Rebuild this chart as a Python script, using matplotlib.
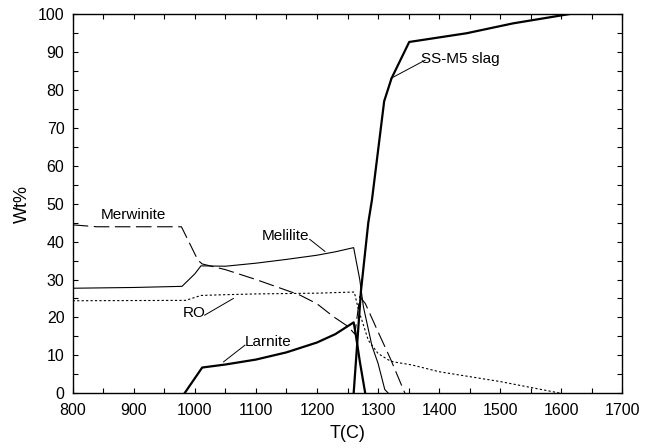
import numpy as np
import matplotlib
matplotlib.use('agg')
import matplotlib.pyplot as plt
from matplotlib.ticker import MultipleLocator

plt.rcParams['font.family'] = ['Liberation Sans', 'DejaVu Sans']

# phase amounts (wt%) vs temperature (C)
slag_t = [1260, 1272, 1284, 1290, 1310, 1322, 1351, 1445, 1521, 1615, 1700]
slag_w = [0, 27, 45, 51, 77, 83, 92.6, 94.9, 97.5, 100, 100]

larnite_t = [983, 1012, 1050, 1100, 1150, 1200, 1230, 1260, 1263, 1270, 1279]
larnite_w = [0, 6.8, 7.6, 8.9, 10.8, 13.4, 15.6, 18.7, 16.0, 8.5, 0]

melilite_t = [800, 900, 979, 1000, 1010, 1050, 1100, 1150, 1200, 1230, 1260,
              1270, 1276, 1290, 1300, 1311, 1317]
melilite_w = [27.7, 27.9, 28.2, 31.5, 33.6, 33.5, 34.3, 35.3, 36.4, 37.3, 38.4,
              30.0, 22.8, 12.5, 7.9, 1.0, 0]

merwinite_t = [800, 840, 978, 1005, 1012, 1050, 1100, 1172, 1200, 1227, 1251,
               1262, 1270, 1279, 1300, 1320, 1344]
merwinite_w = [44.4, 43.9, 43.9, 35.1, 34.1, 32.6, 30.0, 25.9, 23.6, 20.2, 17.6,
               15.6, 25.5, 23.7, 16.2, 9.2, 0]

ro_t = [800, 985, 1010, 1050, 1100, 1200, 1261, 1268, 1284, 1300, 1317, 1325,
        1355, 1400, 1500, 1600]
ro_w = [24.4, 24.5, 25.8, 26.0, 26.2, 26.4, 26.7, 22.0, 14.0, 10.5, 8.8, 8.3,
        7.5, 5.7, 3.1, 0]

fig = plt.figure(figsize=(6.51, 4.48), dpi=100)
ax = fig.add_axes([0.1117, 0.122, 0.8443, 0.847])

ax.plot(slag_t, slag_w, color='black', lw=1.6)
ax.plot(larnite_t, larnite_w, color='black', lw=1.6)
ax.plot(melilite_t, melilite_w, color='black', lw=0.8)
ax.plot(merwinite_t, merwinite_w, color='black', lw=0.8, dashes=(14, 5))
ax.plot(ro_t, ro_w, color='black', lw=0.8, dashes=(2, 2))

ax.set_xlim(800, 1700)
ax.set_ylim(0, 100)
ax.xaxis.set_major_locator(MultipleLocator(100))
ax.xaxis.set_minor_locator(MultipleLocator(50))
ax.yaxis.set_major_locator(MultipleLocator(10))
ax.yaxis.set_minor_locator(MultipleLocator(5))
ax.tick_params(which='both', direction='in', top=True, right=True,
               labelsize=11.5, length=3.5, width=0.8)
ax.tick_params(axis='x', which='major', pad=7)
ax.tick_params(axis='y', which='major', pad=6)
for s in ax.spines.values():
    s.set_linewidth(1.0)

ax.set_xlabel('T(C)', fontsize=13, labelpad=5)
ax.set_ylabel('Wt%', fontsize=13, labelpad=5)

# labels with leader lines
fs = 11
ax.text(1435, 88, 'SS-M5 slag', fontsize=fs, ha='center', va='center')
ax.plot([1377, 1321], [87.8, 83], color='black', lw=0.7)
ax.text(1149, 41.5, 'Melilite', fontsize=fs, ha='center', va='center')
ax.plot([1188, 1213], [40.6, 37.4], color='black', lw=0.7)
ax.text(900, 47, 'Merwinite', fontsize=fs, ha='center', va='center')
ax.text(999, 21.1, 'RO', fontsize=fs, ha='center', va='center')
ax.plot([1016, 1063], [20.6, 25.0], color='black', lw=0.7)
ax.text(1120, 13.6, 'Larnite', fontsize=fs, ha='center', va='center')
ax.plot([1082, 1047], [12.7, 8.3], color='black', lw=0.7)

fig.savefig('out.png', dpi=100)
